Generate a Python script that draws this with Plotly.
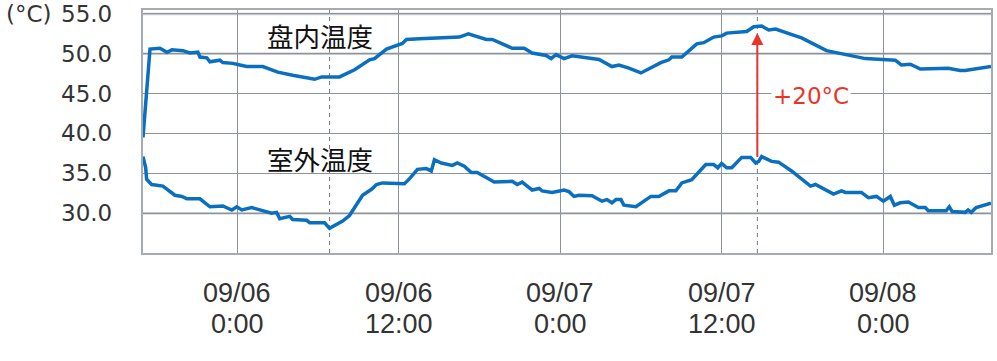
import pandas as pd
import plotly.graph_objects as go

# ---- data (hours since 09/05 17:00, temperature in °C) ----
base_time = "2024-09-05 17:00"

panel_hours = [0.0, 0.52, 1.26, 1.78, 2.15, 2.97, 3.48, 4.08, 4.23, 4.74, 4.97, 5.71, 5.93, 6.67,
               7.19, 7.71, 8.90, 10.01, 11.12, 12.75, 13.27, 14.60, 15.72, 16.83, 17.20, 18.09,
               19.27, 19.57, 20.53, 23.50, 24.17, 25.50, 25.95, 26.69, 27.43, 28.32, 28.91, 29.95,
               30.32, 30.69, 31.28, 31.88, 33.88, 34.84, 35.36, 36.10, 36.99, 38.47, 39.07, 39.29,
               40.03, 41.14, 41.66, 42.40, 42.99, 43.36, 44.85, 45.37, 45.96, 46.48, 47.00, 48.48,
               48.93, 50.78, 53.67, 55.89, 56.34, 57.01, 57.75, 59.82, 60.71, 61.08, 63.0]
panel_temp = [39.5, 50.6, 50.7, 50.2, 50.5, 50.4, 50.1, 50.2, 49.6, 49.5, 49.0, 49.2, 48.9, 48.8,
              48.6, 48.4, 48.4, 47.7, 47.3, 46.8, 47.1, 47.1, 48.0, 49.25, 49.4, 50.6,
              51.3, 51.8, 51.9, 52.1, 52.5, 51.8, 51.8, 51.3, 50.7, 50.7, 50.1, 49.8,
              49.4, 49.9, 49.4, 49.75, 49.3, 48.4, 48.6, 48.2, 47.6, 48.9, 49.25, 49.6,
              49.6, 51.25, 51.4, 52.1, 52.25, 52.6, 52.8, 53.4, 53.5, 53.0, 53.1, 52.25,
              52.0, 50.4, 49.4, 49.2, 48.6, 48.7, 48.1, 48.2, 47.9, 47.9, 48.4]

outdoor_hours = [0.0, 0.2, 0.27, 0.64, 1.48, 2.37, 2.89, 3.26, 4.23, 4.97, 5.93, 6.60, 6.97, 7.34,
                 8.08, 9.56, 9.93, 10.16, 10.90, 11.12, 12.16, 12.38, 13.49, 13.86, 14.83, 15.34,
                 16.31, 16.98, 17.35, 17.79, 19.42, 19.79, 20.39, 21.05, 21.42, 21.65, 22.16, 22.98,
                 23.35, 23.87, 24.39, 24.83, 26.09, 27.43, 27.80, 28.17, 28.91, 29.43, 29.65, 30.39,
                 31.28, 31.65, 32.02, 32.39, 33.36, 34.10, 34.47, 34.84, 35.14, 35.51, 35.73, 36.62,
                 37.73, 38.32, 39.07, 39.59, 40.03, 40.77, 41.81, 42.40, 42.70, 42.99, 43.36, 43.74,
                 44.48, 45.14, 45.52, 45.74, 45.96, 46.70, 47.22, 48.18, 49.59, 49.96, 51.30, 51.89,
                 52.19, 53.37, 53.89, 54.49, 55.00, 55.52, 55.82, 56.26, 56.86, 57.60, 58.12, 58.34,
                 59.67, 59.90, 60.12, 61.08, 61.30, 61.53, 61.90, 63.0]
outdoor_temp = [37.1, 35.7, 34.25, 33.6, 33.4, 32.25, 32.1, 31.8, 31.8, 30.8, 30.9, 30.4, 30.8, 30.4,
                30.7, 30.0, 30.1, 29.3, 29.6, 29.2, 29.1, 28.8, 28.8, 28.1, 29.0, 29.7,
                32.25, 33.0, 33.6, 33.8, 33.7, 34.3, 35.5, 35.6, 35.3, 36.7, 36.3, 36.0,
                36.3, 35.9, 35.1, 35.1, 33.9, 34.0, 33.6, 33.9, 32.9, 33.1, 32.8, 32.6,
                32.9, 32.7, 32.1, 32.25, 32.2, 31.5, 31.7, 31.3, 31.7, 31.7, 31.0, 30.8,
                32.1, 32.1, 32.8, 32.8, 33.8, 34.2, 36.1, 36.1, 35.7, 36.25, 35.7, 35.7,
                37.0, 37.0, 36.3, 36.5, 37.1, 36.5, 36.4, 35.3, 33.4, 33.6, 32.4, 32.8,
                32.6, 32.6, 31.95, 32.1, 31.5, 32.1, 31.0, 31.3, 31.4, 30.7, 30.7, 30.3,
                30.3, 30.8, 30.2, 30.1, 30.4, 30.1, 30.7, 31.25]

tick_hours = [7, 19, 31, 43, 55]
tick_dates = ["09/06", "09/06", "09/07", "09/07", "09/08"]
tick_times = ["0:00", "12:00", "0:00", "12:00", "0:00"]
y_ticks = [30, 35, 40, 45, 50, 55]
y_unit = "(°C)"

marker_hours = [13.86, 45.64]          # dashed reference times
arrow_hour, arrow_from, arrow_to = 45.64, 36.9, 52.6
panel_label, outdoor_label, diff_label = "盘内温度", "室外温度", "+20°C"

# ---- helpers ----
t0 = pd.Timestamp(base_time)
def to_t(hours):
    return [t0 + pd.Timedelta(hours=h) for h in hours]
def one_t(h):
    return (t0 + pd.Timedelta(hours=h)).strftime("%Y-%m-%d %H:%M:%S")

CJK = "Noto Sans CJK JP"
LAT = "DejaVu Sans"
XFONT = "Liberation Sans"
BLUE = "#0b6fc0"
RED = "#e8352b"
TXT = "#333333"

# plot area geometry (pixels) used to place outside labels in paper units
L, R, T, B = 143, 4, 10, 108
PW, PH = 997 - L - R, 361 - T - B
def px_x(px):
    return (px - L) / PW
def px_y(py):
    return (361 - B - py) / PH

fig = go.Figure()
fig.add_trace(go.Scatter(x=to_t(panel_hours), y=panel_temp, mode="lines",
                         line=dict(color=BLUE, width=3.5), hoverinfo="skip", showlegend=False))
fig.add_trace(go.Scatter(x=to_t(outdoor_hours), y=outdoor_temp, mode="lines",
                         line=dict(color=BLUE, width=3.5), hoverinfo="skip", showlegend=False))

# dashed markers
for h in marker_hours:
    fig.add_shape(type="line", xref="x", yref="paper", x0=one_t(h), x1=one_t(h), y0=0, y1=1,
                  line=dict(color="#707780", width=1, dash="4px,4px"), layer="between")

# light gridlines
for v in [55, 50, 30]:
    fig.add_shape(type="line", xref="paper", yref="y", x0=0, x1=1, y0=v, y1=v,
                  line=dict(color="#c4c8cc", width=2.5), layer="between")

# arrow
fig.add_annotation(x=one_t(arrow_hour), y=arrow_to, ax=one_t(arrow_hour), ay=arrow_from,
                   xref="x", yref="y", axref="x", ayref="y", text="", showarrow=True,
                   arrowhead=2, arrowsize=1.2, arrowwidth=2, arrowcolor=RED, standoff=0)
fig.add_annotation(x=one_t(49.6), y=44.7, text=diff_label, showarrow=False,
                   font=dict(family=LAT, size=23, color=RED), bgcolor="white",
                   xanchor="center", yanchor="middle")
fig.add_annotation(x=one_t(13.15), y=52.25, text=panel_label, showarrow=False,
                   font=dict(family=CJK, size=26.5, color="#111111"), xanchor="center", yanchor="middle")
fig.add_annotation(x=one_t(13.15), y=36.9, text=outdoor_label, showarrow=False,
                   font=dict(family=CJK, size=26.5, color="#111111"), xanchor="center", yanchor="middle")

# y tick labels + unit
for v in y_ticks:
    fig.add_annotation(xref="paper", yref="y", x=px_x(114), y=v, text=f"{v:.1f}", showarrow=False,
                       font=dict(family=LAT, size=23, color=TXT), xanchor="right", yanchor="middle")
fig.add_annotation(xref="paper", yref="y", x=px_x(4), y=55, text=y_unit, showarrow=False,
                   font=dict(family=LAT, size=23, color=TXT), xanchor="left", yanchor="middle")

# x tick labels (two rows)
for h, d, tm in zip(tick_hours, tick_dates, tick_times):
    fig.add_annotation(xref="x", yref="paper", x=one_t(h), y=px_y(292.5), text=d, showarrow=False,
                       font=dict(family=XFONT, size=27, color=TXT),
                       xanchor="center", yanchor="middle")
    fig.add_annotation(xref="x", yref="paper", x=one_t(h), y=px_y(323.5), text=tm, showarrow=False,
                       font=dict(family=XFONT, size=27, color=TXT),
                       xanchor="center", yanchor="middle")

fig.update_layout(
    width=997, height=361, margin=dict(l=L, r=R, t=T, b=B),
    paper_bgcolor="white", plot_bgcolor="white",
    font=dict(family=CJK, color=TXT),
    xaxis=dict(range=[one_t(0), one_t(63)], tickvals=to_t(tick_hours), showticklabels=False,
               showgrid=True, gridcolor="#8c939b", gridwidth=1, zeroline=False,
               showline=True, linecolor="#a6abb1", linewidth=1.5, mirror=True, ticks=""),
    yaxis=dict(range=[25, 55.5], tickvals=y_ticks, showticklabels=False,
               showgrid=True, gridcolor="#8c939b", gridwidth=1, zeroline=False,
               showline=True, linecolor="#a6abb1", linewidth=1.5, mirror=True, ticks=""),
)

fig.write_html("out.html")
